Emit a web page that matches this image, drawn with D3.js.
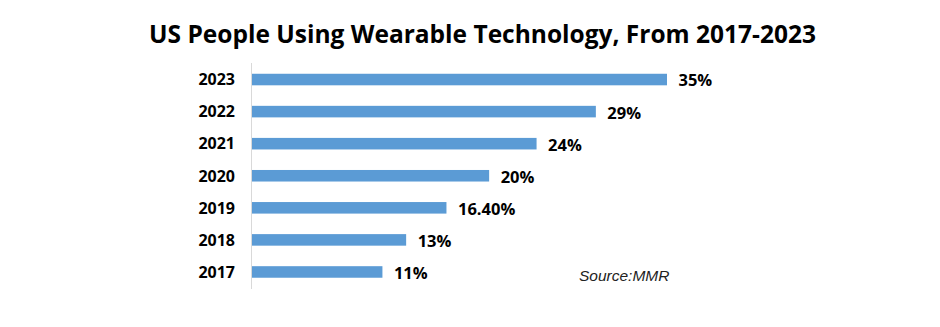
<!DOCTYPE html>
<html><head><meta charset="utf-8">
<script src="https://cdn.jsdelivr.net/npm/d3@7"></script>
<style>body{margin:0;background:#fff}svg{display:block}</style>
</head><body>
<svg id="c" width="940" height="327"></svg>
<script>
const years = ["2023","2022","2021","2020","2019","2018","2017"];
const values = [35, 29, 24, 20, 16.4, 13, 11];
const labels = ["35%","29%","24%","20%","16.40%","13%","11%"];
const title = "US People Using Wearable Technology, From 2017-2023";
const source = "Source:MMR";

const svg = d3.select("#c");
const x = d3.scaleLinear().domain([0, 35]).range([252, 667]);
const y = d3.scaleBand().domain(years).range([63.5, 288]).paddingInner(0.64).paddingOuter(0.32);

const t = svg.append("text").attr("x", 482.5).attr("y", 43).attr("text-anchor", "middle")
  .attr("font-family", "Open Sans").attr("font-weight", "bold").attr("font-size", 24.5)
  .attr("fill", "#000").text(title);

svg.append("line").attr("x1", 251.5).attr("x2", 251.5).attr("y1", 63).attr("y2", 289)
  .attr("stroke", "#d9d9d9").attr("stroke-width", 1);

svg.selectAll("rect.bar").data(values).join("rect").attr("class", "bar")
  .attr("x", x(0)).attr("y", (d, i) => y(years[i]))
  .attr("width", d => x(d) - x(0)).attr("height", y.bandwidth())
  .attr("fill", "#5B9BD5");

svg.selectAll("text.yl").data(years).join("text").attr("class", "yl")
  .attr("x", 235).attr("y", d => y(d) + y.bandwidth() / 2).attr("dy", "0.36em")
  .attr("text-anchor", "end").attr("font-family", "Open Sans").attr("font-weight", "bold")
  .attr("font-size", 16).attr("fill", "#000").text(d => d);

svg.selectAll("text.vl").data(values).join("text").attr("class", "vl")
  .attr("x", d => x(d) + 11.5).attr("y", (d, i) => y(years[i]) + y.bandwidth() / 2 + 1).attr("dy", "0.36em")
  .attr("font-family", "Open Sans").attr("font-weight", "bold")
  .attr("font-size", 16.5).attr("fill", "#000").text((d, i) => labels[i]);

svg.append("text").attr("x", 579).attr("y", 281)
  .attr("font-family", "Liberation Sans").attr("font-style", "italic")
  .attr("font-size", 15.5).attr("fill", "#222").text(source);
</script>
</body></html>
